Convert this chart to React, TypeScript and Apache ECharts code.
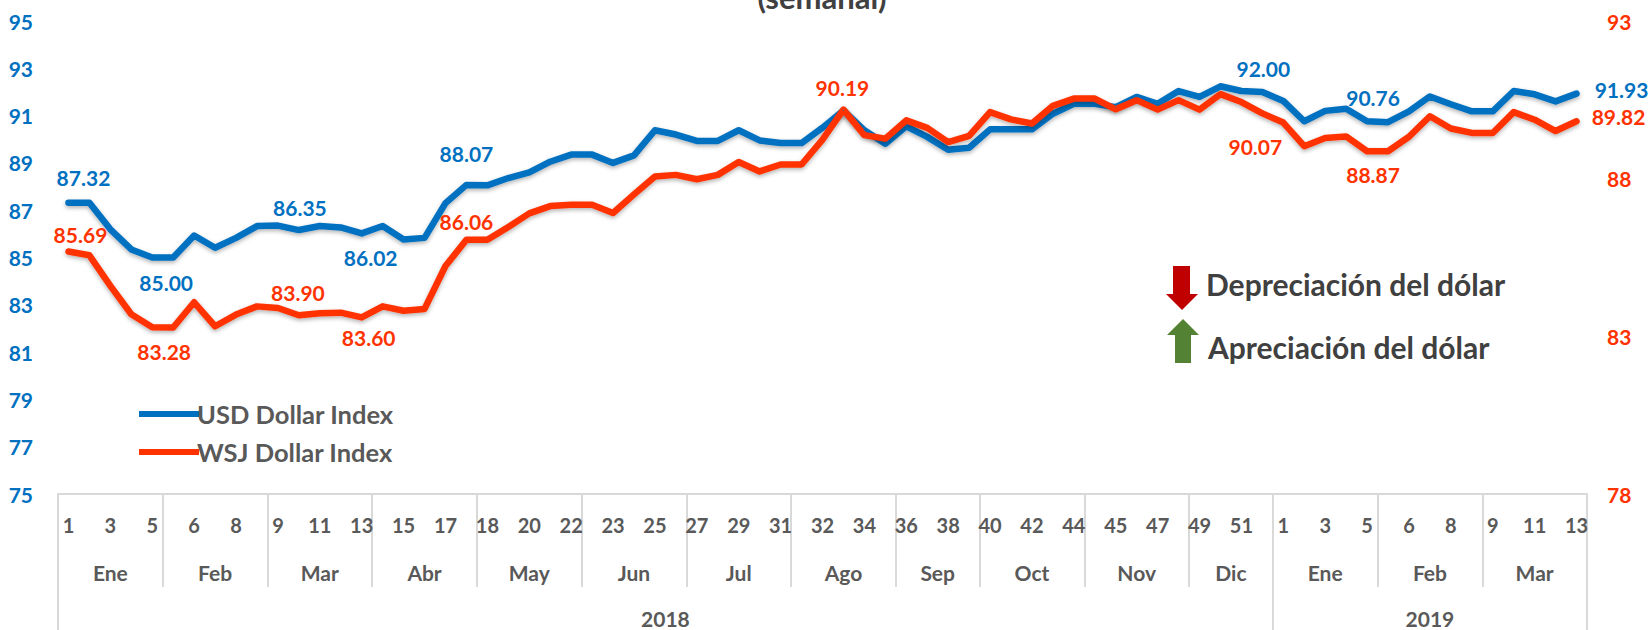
import React, { useEffect, useRef } from "react";
import * as echarts from "echarts";

const weekLabels = [
  "1","2","3","4","5","5","6","7","8","8","9","10","11","12","13","14","15","16","17","17",
  "18","19","20","21","22","22","23","24","25","26","27","28","29","30","31","31","32","33","34","35",
  "36","37","38","39","40","41","42","43","44","44","45","46","47","48","49","50","51","52",
  "1","2","3","4","5","5","6","7","8","8","9","10","11","12","13",
];
const months = ["Ene","Feb","Mar","Abr","May","Jun","Jul","Ago","Sep","Oct","Nov","Dic","Ene","Feb","Mar"];
const monthSpans = [5,5,5,5,5,5,5,5,4,5,5,4,5,5,5];
const years = ["2018","2019"];
const yearSpans = [58,15];

const usdIndex = [
  87.32,87.32,86.19,85.34,85.0,85.0,85.93,85.41,85.83,86.33,86.35,86.16,86.33,86.27,86.02,86.33,85.76,85.83,87.3,88.07,
  88.05,88.36,88.6,89.05,89.35,89.35,89.0,89.32,90.38,90.2,89.93,89.93,90.38,89.95,89.84,89.84,90.49,91.22,90.38,89.81,
  90.55,90.1,89.56,89.64,90.42,90.42,90.42,91.08,91.5,91.5,91.36,91.79,91.5,92.04,91.79,92.24,92.04,92.0,
  91.62,90.76,91.2,91.29,90.76,90.72,91.18,91.81,91.48,91.18,91.18,92.04,91.9,91.6,91.93,
];
const wsjIndex = [
  85.69,85.57,84.6,83.7,83.29,83.28,84.08,83.32,83.69,83.95,83.9,83.67,83.73,83.75,83.6,83.95,83.81,83.87,85.23,86.06,
  86.06,86.47,86.9,87.13,87.17,87.17,86.91,87.5,88.07,88.12,87.98,88.12,88.53,88.23,88.45,88.45,89.24,90.19,89.38,89.27,
  89.85,89.61,89.16,89.36,90.11,89.88,89.75,90.31,90.54,90.54,90.2,90.49,90.19,90.49,90.19,90.68,90.43,90.07,
  89.78,89.03,89.29,89.34,88.87,88.87,89.33,89.98,89.59,89.45,89.45,90.11,89.87,89.51,89.82,
];

const usdLabelOffsets: Record<number, [number, number]> = {
  0: [15,-25], 5: [-7,25], 10: [22,-18], 14: [9,24], 19: [0,-31], 57: [1,-23], 62: [6,-24], 72: [45,-4],
};
const wsjLabelOffsets: Record<number, [number, number]> = {
  0: [12,-17], 5: [-9,24], 10: [20,-15], 14: [7,20], 19: [0,-18], 37: [-1,-22], 57: [-7,33], 62: [6,23], 72: [42,-5],
};

const BLUE = "#0070C0";
const RED = "#FF3300";
const GRAY = "#595959";
const FONT = "Lato";

function toItems(values: number[], offsets: Record<number, [number, number]>, color: string) {
  return values.map((v, i) =>
    offsets[i]
      ? {
          value: v,
          label: {
            show: true,
            position: "inside",
            offset: offsets[i],
            color,
            fontFamily: FONT,
            fontWeight: "bold",
            fontSize: 21,
            formatter: () => v.toFixed(2),
          },
        }
      : { value: v, label: { show: false } }
  );
}

function spans(list: number[]) {
  const bounds = [0];
  const centers: number[] = [];
  list.forEach((n) => {
    const s = bounds[bounds.length - 1];
    centers.push(s + n / 2);
    bounds.push(s + n);
  });
  return { bounds, centers };
}

export default function App() {
  const ref = useRef<HTMLDivElement>(null);
  useEffect(() => {
    const chart = echarts.init(ref.current!, undefined, { renderer: "svg" });
    const m = spans(monthSpans);
    const y = spans(yearSpans);
    const tickStyle = { color: "#D9D9D9", width: 2 };
    const lineShadow = { shadowBlur: 4, shadowColor: "rgba(0,0,0,0.3)", shadowOffsetY: 2 };
    chart.setOption({
      animation: false,
      backgroundColor: "#FFFFFF",
      textStyle: { fontFamily: FONT },
      grid: { left: 58, right: 61, top: 21, bottom: 136 },
      legend: {
        left: 134,
        top: 396,
        orient: "vertical",
        itemWidth: 60,
        itemHeight: 6,
        itemGap: 12,
        icon: "rect",
        textStyle: { color: GRAY, fontFamily: FONT, fontWeight: "bold", fontSize: 25.5, padding: [0, 0, 0, -7] },
        data: ["USD Dollar Index", "WSJ Dollar Index"],
      },
      xAxis: [
        {
          type: "category",
          position: "bottom",
          data: weekLabels,
          boundaryGap: true,
          axisLine: { show: true, lineStyle: tickStyle },
          axisTick: { show: false },
          axisLabel: { interval: 1, color: GRAY, fontFamily: FONT, fontWeight: "bold", fontSize: 20, margin: 21 },
        },
        {
          type: "value",
          position: "bottom",
          min: 0,
          max: 73,
          axisLine: { show: false },
          splitLine: { show: false },
          axisTick: { show: true, customValues: m.bounds, length: 93, lineStyle: tickStyle },
          axisLabel: {
            show: true,
            customValues: m.centers,
            formatter: (v: number) => months[m.centers.indexOf(v)] ?? "",
            color: GRAY,
            fontFamily: FONT,
            fontWeight: "bold",
            fontSize: 21,
            margin: 68,
          },
        },
        {
          type: "value",
          position: "bottom",
          min: 0,
          max: 73,
          axisLine: { show: false },
          splitLine: { show: false },
          axisTick: { show: true, customValues: y.bounds, length: 136, lineStyle: tickStyle },
          axisLabel: {
            show: true,
            customValues: y.centers,
            formatter: (v: number) => years[y.centers.indexOf(v)] ?? "",
            color: GRAY,
            fontFamily: FONT,
            fontWeight: "bold",
            fontSize: 21,
            margin: 114,
          },
        },
      ],
      yAxis: [
        {
          type: "value",
          min: 75,
          max: 95,
          interval: 2,
          axisLine: { show: false },
          axisTick: { show: false },
          splitLine: { show: false },
          axisLabel: { color: BLUE, fontFamily: FONT, fontWeight: "bold", fontSize: 21, margin: 25 },
        },
        {
          type: "value",
          min: 78,
          max: 93,
          interval: 5,
          position: "right",
          axisLine: { show: false },
          axisTick: { show: false },
          splitLine: { show: false },
          axisLabel: { color: RED, fontFamily: FONT, fontWeight: "bold", fontSize: 21, margin: 20 },
        },
      ],
      series: [
        {
          name: "USD Dollar Index",
          type: "line",
          xAxisIndex: 0,
          yAxisIndex: 0,
          symbol: "circle",
          symbolSize: 1,
          showSymbol: true,
          itemStyle: { color: BLUE },
          lineStyle: { color: BLUE, width: 6.5, cap: "round", join: "round", ...lineShadow },
          data: toItems(usdIndex, usdLabelOffsets, BLUE),
        },
        {
          name: "WSJ Dollar Index",
          type: "line",
          xAxisIndex: 0,
          yAxisIndex: 1,
          symbol: "circle",
          symbolSize: 1,
          showSymbol: true,
          itemStyle: { color: RED },
          lineStyle: { color: RED, width: 6.5, cap: "round", join: "round", ...lineShadow },
          data: toItems(wsjIndex, wsjLabelOffsets, RED),
        },
      ],
      graphic: [
        {
          type: "text",
          x: 822,
          y: -3,
          style: {
            text: "(semanal)",
            fill: "#404040",
            font: `bold 31px ${FONT}`,
            textAlign: "center",
            textVerticalAlign: "middle",
          },
        },
        {
          type: "polygon",
          shape: { points: [[1173,266],[1190,266],[1190,294],[1198,294],[1182,310],[1166,294],[1173,294]] },
          style: { fill: "#C00000" },
        },
        {
          type: "polygon",
          shape: { points: [[1183,319],[1199,335],[1191,335],[1191,363],[1175,363],[1175,335],[1167,335]] },
          style: { fill: "#548235" },
        },
        {
          type: "text",
          x: 1206,
          y: 284,
          style: {
            text: "Depreciación del dólar",
            fill: "#404040",
            font: `bold 30px ${FONT}`,
            textVerticalAlign: "middle",
          },
        },
        {
          type: "text",
          x: 1208,
          y: 347,
          style: {
            text: "Apreciación del dólar",
            fill: "#404040",
            font: `bold 30px ${FONT}`,
            textVerticalAlign: "middle",
          },
        },
      ],
    });
    return () => chart.dispose();
  }, []);
  return (
    <div
      ref={ref}
      style={{ position: "fixed", left: 0, top: 0, width: 1648, height: 630 }}
    />
  );
}
